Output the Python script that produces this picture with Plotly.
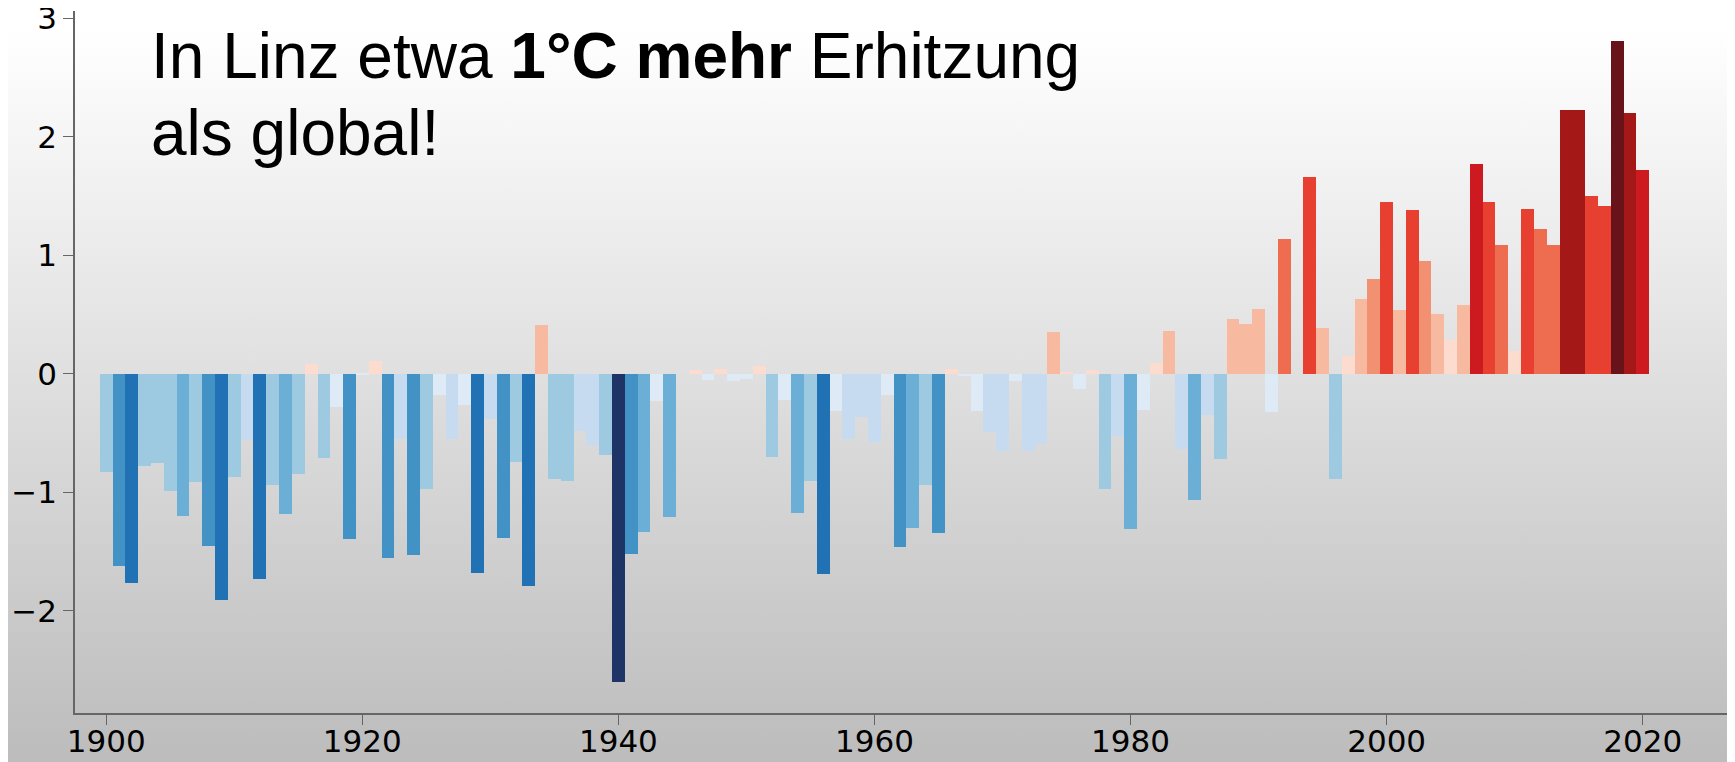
import base64
import math
import plotly.graph_objects as go

# Jahre und Temperaturabweichung (°C) für Linz
years = list(range(1900, 2021))
anomaly = [
    -0.83, -1.62, -1.76, -0.78, -0.75, -0.99, -1.20, -0.91, -1.45, -1.91,   # 1900-1909
    -0.87, -0.56, -1.73, -0.94, -1.18, -0.84, 0.08, -0.71, -0.28, -1.39,    # 1910-1919
    -0.01, 0.11, -1.55, -0.55, -1.53, -0.97, -0.18, -0.55, -0.26, -1.68,    # 1920-1929
    -0.38, -1.38, -0.74, -1.79, 0.41, -0.89, -0.90, -0.48, -0.60, -0.68,    # 1930-1939
    -2.60, -1.52, -1.33, -0.23, -1.21, 0.0, 0.03, -0.05, 0.04, -0.06,       # 1940-1949
    -0.04, 0.07, -0.70, -0.22, -1.17, -0.90, -1.69, -0.31, -0.55, -0.36,    # 1950-1959
    -0.57, -0.18, -1.46, -1.30, -0.94, -1.34, 0.04, -0.02, -0.31, -0.49,    # 1960-1969
    -0.65, -0.06, -0.65, -0.59, 0.35, 0.01, -0.13, 0.03, -0.97, -0.52,      # 1970-1979
    -1.31, -0.30, 0.09, 0.36, -0.63, -1.06, -0.35, -0.72, 0.46, 0.42,       # 1980-1989
    0.55, -0.32, 1.14, 0.0, 1.66, 0.39, -0.89, 0.15, 0.63, 0.80,            # 1990-1999
    1.45, 0.54, 1.38, 0.95, 0.51, 0.29, 0.58, 1.77, 1.45, 1.09,             # 2000-2009
    0.19, 1.39, 1.22, 1.09, 2.23, 2.23, 1.50, 1.42, 2.81, 2.20,             # 2010-2019
    1.72,                                                                   # 2020
]
x_ticks = [1900, 1920, 1940, 1960, 1980, 2000, 2020]
y_ticks = [-2, -1, 0, 1, 2, 3]

# Farbstufen in 1/3-Grad-Schritten
blues = ["#deebf7", "#c6dbef", "#9ecae1", "#6baed6", "#4292c6", "#2171b5", "#08519c", "#1e3466"]
reds = ["#fddcd0", "#f7b9a0", "#f29072", "#ee6d50", "#e84030", "#cc1a20", "#a51818", "#68131a"]


def farbe(v):
    stufe = min(8, max(1, math.ceil(abs(v) * 3 - 1e-9)))
    return (reds if v >= 0 else blues)[stufe - 1]


W, H = 1735, 762
OFF = 8  # Seitenrand des Browsers (body margin)
# Plotfläche in Seitenpixeln
PL, PR, PT, PB = 75, 1728, 11, 713
PW, PH = PR - PL, PB - PT

fig = go.Figure()
fig.add_trace(go.Bar(
    x=years, y=anomaly, width=1,
    marker=dict(color=[farbe(v) for v in anomaly], line=dict(width=0)),
    hoverinfo="x+y",
))

# Hintergrund mit Verlauf
svg = (
    f'<svg xmlns="http://www.w3.org/2000/svg" width="{W}" height="{H}" '
    f'viewBox="0 0 {W} {H}" preserveAspectRatio="none"><defs>'
    '<linearGradient id="g" x1="0" y1="0" x2="0" y2="1">'
    '<stop offset="0" stop-color="#ffffff"/><stop offset="0.04" stop-color="#ffffff"/>'
    '<stop offset="1" stop-color="#bcbcbc"/></linearGradient></defs>'
    f'<rect width="{W}" height="{H}" fill="url(#g)"/></svg>'
)
src = "data:image/svg+xml;base64," + base64.b64encode(svg.encode()).decode()
fig.add_layout_image(
    source=src, xref="paper", yref="paper",
    x=-PL / PW, y=1 + PT / PH, sizex=W / PW, sizey=H / PH,
    xanchor="left", yanchor="top", sizing="stretch", layer="below",
)

tick_font = dict(family="DejaVu Sans", size=31, color="black")
fig.update_xaxes(
    range=[1897.56, 2026.66], tickvals=x_ticks, showgrid=False, zeroline=False,
    showline=True, linecolor="#666666", linewidth=1.6, automargin=False,
    ticks="outside", ticklen=10, tickwidth=1.4, tickcolor="#666666",
    tickfont=tick_font, ticklabeloverflow="allow", ticklabelstandoff=-10,
)
fig.update_yaxes(
    range=[-2.861, 3.063], tickvals=y_ticks, showgrid=False, zeroline=False,
    showline=True, linecolor="#666666", linewidth=1.6, automargin=False,
    ticks="outside", ticklen=10, tickwidth=1.4, tickcolor="#666666",
    tickfont=tick_font, ticklabeloverflow="allow",
)

text_font = dict(family="Liberation Sans, Arial", size=64, color="black")
fig.add_annotation(
    text="In Linz etwa <b>1°C mehr</b> Erhitzung", xref="paper", yref="paper",
    x=(149 - PL) / PW, y=(PB - 56) / PH, xanchor="left", yanchor="middle",
    showarrow=False, font=text_font,
)
fig.add_annotation(
    text="als global!", xref="paper", yref="paper",
    x=(149 - PL) / PW, y=(PB - 133) / PH, xanchor="left", yanchor="middle",
    showarrow=False, font=text_font,
)

fig.update_layout(
    width=W, height=H,
    margin=dict(l=PL - OFF, r=W - PR + OFF, t=PT - OFF, b=H - PB + OFF, autoexpand=False),
    paper_bgcolor="white", plot_bgcolor="rgba(0,0,0,0)",
    bargap=0, showlegend=False,
)

fig.write_html("out.html")
